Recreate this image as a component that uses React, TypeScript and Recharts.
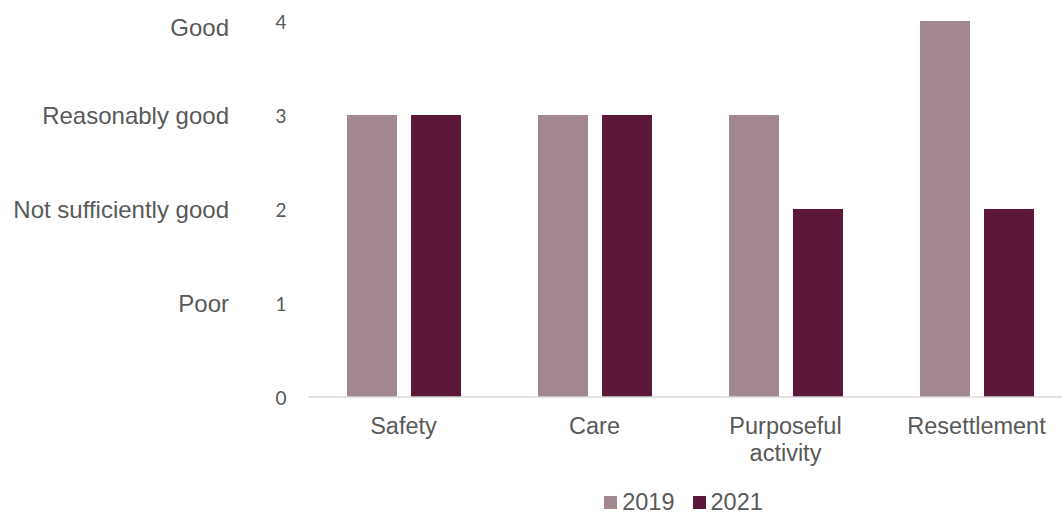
import React from 'react';
import { BarChart, Bar, XAxis, YAxis, Legend } from 'recharts';

const categories = ['Safety', 'Care', 'Purposeful activity', 'Resettlement'];
const ratings2019 = [3, 3, 3, 4];
const ratings2021 = [3, 3, 2, 2];
const yTicks = [0, 1, 2, 3, 4];
const ratingLabels = ['', 'Poor', 'Not sufficiently good', 'Reasonably good', 'Good'];

const seriesNames = ['2019', '2021'];
const seriesColors = ['#a1878e', '#5d1739'];

const data = categories.map((name, i) => ({
  name,
  y2019: ratings2019[i],
  y2021: ratings2021[i],
}));

const textColor = '#595959';
const labelFont = '"Liberation Sans", Arial, sans-serif';
const numberFont = 'Lato, "Open Sans", sans-serif';

const YTick = (props: any) => {
  const { x, y, payload } = props;
  // the top label sits a little below its gridline in the original
  const labelY = payload.value === 4 ? y + 6 : y;
  return (
    <g>
      <text x={x - 27} y={y} textAnchor="middle" dominantBaseline="central"
        fill={textColor} fontSize={19} fontFamily={numberFont}>
        {payload.value}
      </text>
      <text x={x - 79} y={labelY} textAnchor="end" dominantBaseline="central"
        fill={textColor} fontSize={24} fontFamily={labelFont}>
        {ratingLabels[payload.value]}
      </text>
    </g>
  );
};

const XTick = (props: any) => {
  const { x, y, payload } = props;
  const label: string = payload.value;
  // long names wrap onto two lines
  const lines = label.length > 14 ? label.split(' ') : [label];
  return (
    <text x={x} y={y + 37} textAnchor="middle" fill={textColor}
      fontSize={23.5} fontFamily={labelFont}>
      {lines.map((line, i) => (
        <tspan key={i} x={x} dy={i ? 27 : 0}>{line}</tspan>
      ))}
    </text>
  );
};

const renderLegend = () => (
  <div style={{
    display: 'flex', justifyContent: 'center', alignItems: 'center', height: 20,
    paddingLeft: 295, boxSizing: 'border-box', width: '100%',
    fontFamily: labelFont, fontSize: 23.5, color: textColor, lineHeight: '20px',
  }}>
    {seriesNames.map((s, i) => (
      <div key={s} style={{ display: 'flex', alignItems: 'center', marginLeft: i ? 18 : 0 }}>
        <span style={{ width: 13, height: 13, background: seriesColors[i], marginRight: 5, display: 'inline-block' }} />
        <span>{s}</span>
      </div>
    ))}
  </div>
);

const App: React.FC = () => {
  return (
    <div style={{ position: 'fixed', left: 0, top: 0, width: 1062, height: 515, overflow: 'hidden', background: '#fff' }}>
      <BarChart width={1072} height={515} data={data}
        margin={{ top: 21, right: 0, bottom: 3, left: 0 }} barSize={50} barGap={14}>
        <XAxis dataKey="name" height={95} tickLine={false} tickSize={0} tickMargin={0}
          axisLine={{ stroke: '#d9d9d9', strokeWidth: 1.5 }} tick={<XTick />} interval={0} />
        <YAxis width={308} domain={[0, 4]} ticks={yTicks} axisLine={false} tickLine={false}
          tickSize={0} tickMargin={0} tick={<YTick />} interval={0} />
        <Legend verticalAlign="bottom" content={renderLegend}
          wrapperStyle={{ left: 0, width: 1072, bottom: 3, height: 20 }} />
        <Bar dataKey="y2019" name={seriesNames[0]} fill={seriesColors[0]} isAnimationActive={false} />
        <Bar dataKey="y2021" name={seriesNames[1]} fill={seriesColors[1]} isAnimationActive={false} />
      </BarChart>
    </div>
  );
};

export default App;
